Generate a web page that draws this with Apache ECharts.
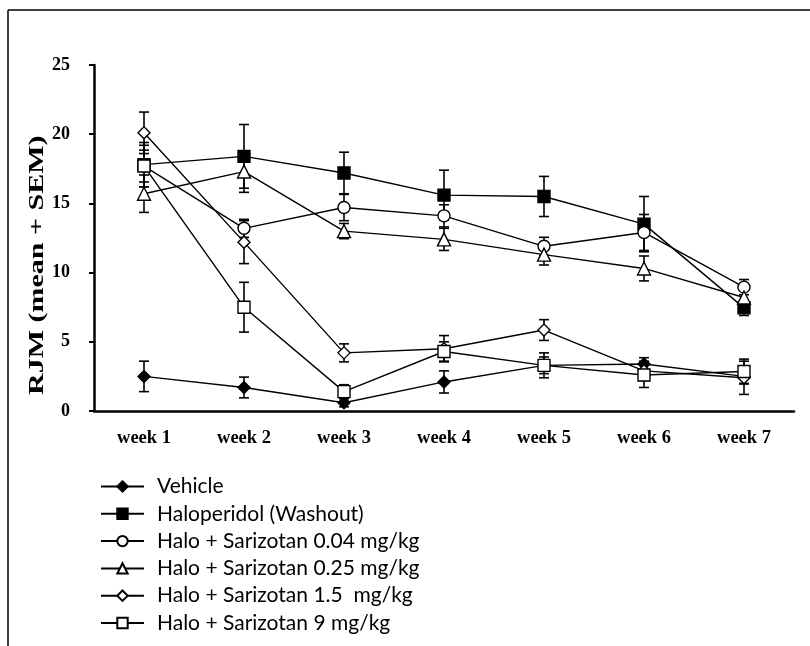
<!DOCTYPE html>
<html>
<head>
<meta charset="utf-8">
<script src="https://cdn.jsdelivr.net/npm/echarts@6/dist/echarts.min.js"></script>
<style>html,body{margin:0;padding:0;background:#fff;}#c{width:810px;height:646px;}</style>
</head>
<body>
<div id="c"></div>
<script>
var categories = ['week 1','week 2','week 3','week 4','week 5','week 6','week 7'];
var yTicks = [0, 5, 10, 15, 20, 25];

var vehicle    = [2.5, 1.7, 0.6, 2.1, 3.3, 3.4, 2.5];
var vehicleErr = [1.1, 0.75, 0.3, 0.8, 0.6, 0.45, 0.5];
var halo       = [17.8, 18.4, 17.2, 15.6, 15.5, 13.5, 7.45];
var haloErr    = [1.6, 2.3, 1.5, 1.8, 1.45, 2.0, 0.55];
var s004       = [17.7, 13.2, 14.7, 14.1, 11.9, 12.9, 8.95];
var s004Err    = [1.5, 0.65, 0.95, 0.8, 0.65, 1.3, 0.55];
var s025       = [15.7, 17.3, 13.0, 12.4, 11.3, 10.3, 8.2];
var s025Err    = [1.35, 1.5, 0.55, 0.8, 0.75, 0.9, 0.6];
var s15        = [20.1, 12.2, 4.2, 4.5, 5.85, 2.9, 2.4];
var s15Err     = [1.5, 1.55, 0.65, 0.95, 0.75, 0.7, 1.2];
var s9         = [17.7, 7.5, 1.4, 4.3, 3.3, 2.6, 2.85];
var s9Err      = [1.15, 1.8, 0.5, 0.7, 0.9, 0.9, 0.9];

var groups = [
  {name: 'Vehicle', data: vehicle, err: vehicleErr, symbol: 'diamond', fill: '#000'},
  {name: 'Haloperidol (Washout)', data: halo, err: haloErr, symbol: 'rect', fill: '#000'},
  {name: 'Halo + Sarizotan 0.04 mg/kg', data: s004, err: s004Err, symbol: 'circle', fill: '#fff'},
  {name: 'Halo + Sarizotan 0.25 mg/kg', data: s025, err: s025Err, symbol: 'triangle', fill: '#fff'},
  {name: 'Halo + Sarizotan 1.5  mg/kg', data: s15, err: s15Err, symbol: 'diamond', fill: '#fff'},
  {name: 'Halo + Sarizotan 9 mg/kg', data: s9, err: s9Err, symbol: 'rect', fill: '#fff'}
];

var series = [];
groups.forEach(function (g) {
  var errData = g.data.map(function (v, i) { return [i, v - g.err[i], v + g.err[i]]; });
  series.push({
    type: 'custom',
    name: g.name + ' err',
    z: 1,
    silent: true,
    data: errData,
    encode: {x: 0, y: [1, 2]},
    renderItem: function (params, api) {
      var x = api.value(0);
      var lo = api.coord([x, api.value(1)]);
      var hi = api.coord([x, api.value(2)]);
      var hw = 5;
      var st = {stroke: '#000', lineWidth: 1.6};
      return {
        type: 'group',
        children: [
          {type: 'line', shape: {x1: lo[0], y1: lo[1], x2: hi[0], y2: hi[1]}, style: st},
          {type: 'line', shape: {x1: lo[0] - hw, y1: lo[1], x2: lo[0] + hw, y2: lo[1]}, style: st},
          {type: 'line', shape: {x1: hi[0] - hw, y1: hi[1], x2: hi[0] + hw, y2: hi[1]}, style: st}
        ]
      };
    }
  });
});
groups.forEach(function (g) {
  series.push({
    type: 'line',
    name: g.name,
    z: 3,
    data: g.data,
    symbol: g.symbol,
    symbolSize: g.symbol === 'triangle' ? 13 : 12,
    showAllSymbol: true,
    lineStyle: {color: '#000', width: 1.4},
    itemStyle: {color: g.fill, borderColor: '#000', borderWidth: 1.4},
    emphasis: {disabled: true},
    animation: false
  });
});

var chart = echarts.init(document.getElementById('c'));
chart.setOption({
  backgroundColor: '#fff',
  animation: false,
  grid: {left: 94, right: 16, top: 65, bottom: 235, containLabel: false},
  xAxis: {
    type: 'category',
    data: categories,
    boundaryGap: true,
    axisLine: {lineStyle: {color: '#000', width: 2.5}},
    axisTick: {length: 5, lineStyle: {color: '#000', width: 2}, alignWithLabel: false},
    axisLabel: {color: '#000', fontFamily: 'Liberation Serif', fontWeight: 'bold', fontSize: 18.5, margin: 18}
  },
  yAxis: {
    type: 'value',
    min: yTicks[0],
    max: yTicks[yTicks.length - 1],
    interval: 5,
    splitLine: {show: false},
    axisLine: {show: true, lineStyle: {color: '#000', width: 2.5}},
    axisTick: {show: true, length: 5, lineStyle: {color: '#000', width: 2}},
    axisLabel: {color: '#000', fontFamily: 'Liberation Serif', fontWeight: 'bold', fontSize: 18, margin: 24,
      verticalAlign: 'middle', padding: [0, 0, 12, 0]}
  },
  legend: {
    orient: 'vertical',
    left: 100,
    top: 476,
    padding: 0,
    itemWidth: 43,
    itemHeight: 13,
    itemGap: 6.3,
    selectedMode: false,
    data: groups.map(function (g) { return g.name; }),
    textStyle: {color: '#000', fontFamily: 'Lato', fontSize: 21, lineHeight: 21, padding: [0, 0, 0, 8]}
  },
  graphic: [
    {type: 'line', shape: {x1: 8, y1: 10, x2: 810, y2: 10}, style: {stroke: '#000', lineWidth: 1.5}, silent: true},
    {type: 'line', shape: {x1: 8, y1: 10, x2: 8, y2: 646}, style: {stroke: '#000', lineWidth: 1.5}, silent: true},
    {type: 'text', x: 28, y: 395, rotation: Math.PI / 2, scaleX: 1.5, silent: true,
      style: {text: 'RJM (mean + SEM)', fill: '#000', font: 'bold 20px "Liberation Serif"', align: 'left', verticalAlign: 'top'}}
  ],
  series: series
});
</script>
</body>
</html>
